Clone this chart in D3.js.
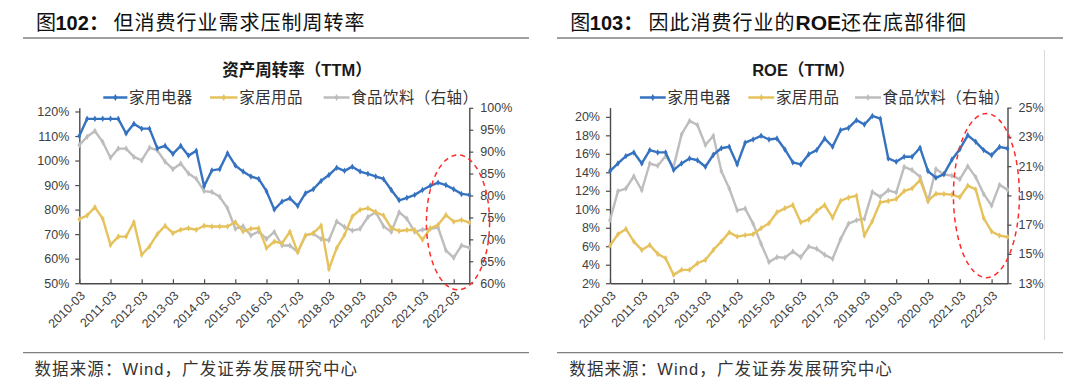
<!DOCTYPE html>
<html><head><meta charset="utf-8">
<script src="https://cdn.jsdelivr.net/npm/d3@7"></script>
<style>
html,body{margin:0;padding:0;background:#fff;}
svg{display:block;}
</style></head><body>
<svg id="c" width="1080" height="382"></svg>
<script>
// ---------------- DATA ----------------
const quarters = ["2010-03","2010-06","2010-09","2010-12","2011-03","2011-06","2011-09","2011-12",
"2012-03","2012-06","2012-09","2012-12","2013-03","2013-06","2013-09","2013-12",
"2014-03","2014-06","2014-09","2014-12","2015-03","2015-06","2015-09","2015-12",
"2016-03","2016-06","2016-09","2016-12","2017-03","2017-06","2017-09","2017-12",
"2018-03","2018-06","2018-09","2018-12","2019-03","2019-06","2019-09","2019-12",
"2020-03","2020-06","2020-09","2020-12","2021-03","2021-06","2021-09","2021-12",
"2022-03","2022-06","2022-09"];
const tickLabels = ["2010-03","2011-03","2012-03","2013-03","2014-03","2015-03","2016-03",
"2017-03","2018-03","2019-03","2020-03","2021-03","2022-03"];
const seriesNames = ["家用电器","家居用品","食品饮料（右轴）"];

// Figure 102: asset turnover (TTM), %
const turnoverAppliance = [110,117,117,117,117,117,111,115,113,113,105,106,102.7,106,102,104,
 89.5,96,96.5,103,98,95.5,93.5,92.5,87.5,80,83.3,84.6,81.5,86.7,88.3,91.7,94.1,97.1,95.8,97.5,
 95.5,94.6,93.5,92.5,88,83.8,84.8,86,88,89.7,91,90,88.3,86.4,86];
const turnoverHome = [76.1,77.6,81,76.3,65.6,69,69,74.9,61.6,65,70,73.4,70.4,71.8,72.4,71.8,
 73.4,73.1,73.1,73.1,74.9,71.1,72.2,72.4,64.3,67,66.3,71,62.6,69.5,70.4,73.5,55.8,64.3,69.7,77.2,
 79.9,80.6,79,77.6,72.4,71.3,71.7,71.7,67.7,72.4,73.8,77.8,75.1,75.8,74.7];
const turnoverFood = [91.5,93.4,94.7,92.2,88.6,90.7,90.7,88.8,88,90.9,90.3,87.7,86,87.3,85,83.8,
 81,80.8,79.7,77.1,72.4,73,70.9,71.8,70.1,71.7,68.6,68.6,67.1,70.9,71.3,70.1,69.8,74.1,72.8,72,
 72.4,75.1,76.2,73,71.7,76.2,74.7,71.7,72.2,72.4,72.7,67.5,65.8,68.6,68.1];

// Figure 103: ROE (TTM), %
const roeAppliance = [14.13,14.96,15.75,16.15,14.96,16.4,16.15,16.15,14.24,14.96,15.5,15.3,14.6,
 15.9,16.6,16.76,14.85,17.2,17.55,17.95,17.55,17.66,16.47,15.07,14.85,15.95,16.4,17.66,16.76,
 18.56,18.8,19.64,19.17,20.1,19.8,15.5,15.14,15.68,15.68,16.65,14.13,13.4,13.8,15.35,16.5,18.0,
 17.3,16.4,15.85,16.75,16.58];
const roeHome = [6.07,7.29,7.87,6.5,5.6,6.14,5.17,4.7,2.9,3.44,3.44,4.16,4.52,5.6,6.5,7.5,7.04,
 7.2,7.29,7.94,8.48,9.67,10.1,10.46,8.59,8.9,9.81,10.46,9.09,10.9,11.25,11.47,7.15,8.73,10.75,
 10.9,11.1,11.97,12.26,13.16,10.9,11.68,11.65,11.58,11.3,12.55,12.15,9.05,7.6,7.15,7.0];
const roeFood = [17.3,19.29,19.47,20.31,19.35,21.18,21.02,21.69,20.95,23.17,24.09,23.81,22.44,
 23.08,20.66,19.47,17.98,18.1,17.07,15.7,14.44,14.78,14.74,15.17,14.78,15.5,15.35,14.94,14.67,
 16.0,17.07,17.3,17.41,19.24,18.9,19.35,19.19,20.95,20.73,20.27,18.6,20.8,20.43,20.35,20.1,
 21.0,20.25,19.1,18.3,19.72,19.38];

const turnoverLeftTicks = [50,60,70,80,90,100,110,120];
const turnoverRightTicks = [60,65,70,75,80,85,90,95,100];
const roeLeftTicks = [2,4,6,8,10,12,14,16,18,20];
const roeRightTicks = [13,15,17,19,21,23,25];

// ---------------- DRAW ----------------
const COLORS = ["#3572c0","#e6c25c","#bdbdbd"];
const LATIN = "'Liberation Sans', Arial, sans-serif";
const CJK = "'Noto Sans CJK SC', 'Noto Sans', sans-serif";
const svg = d3.select("#c");

function drawPanel(cfg){
  const g = svg.append("g");
  // Figure title
  const t = g.append("text").attr("y", cfg.titleY).attr("fill","#111")
    .style("font-size","20px");
  t.append("tspan").attr("x", cfg.titleX).style("font-family",CJK).text("图");
  t.append("tspan").attr("x", cfg.titleX+19.5).style("font-family",LATIN).style("font-weight","bold")
    .style("font-size","20px").text(cfg.figNo);
  t.append("tspan").style("font-family",CJK).style("font-weight","bold").text("：");
  cfg.titleParts.forEach(p=>{
    const ts = t.append("tspan").text(p.t);
    if(p.x!==undefined) ts.attr("x", p.x);
    if(p.latin){ ts.style("font-family",LATIN).style("font-weight","bold").style("font-size","21px"); }
    else ts.style("font-family",CJK).style("letter-spacing","1px");
  });
  // rules
  g.append("line").attr("x1",cfg.ruleX0).attr("x2",cfg.ruleX1).attr("y1",38).attr("y2",38)
    .attr("stroke","#808080").attr("stroke-width",1.3);
  g.append("line").attr("x1",cfg.ruleX0).attr("x2",cfg.ruleX1).attr("y1",352.6).attr("y2",352.6)
    .attr("stroke","#808080").attr("stroke-width",1.3);
  // source
  const s = g.append("text").attr("x",cfg.srcX).attr("y",374.5).attr("fill","#333")
    .style("font-size","16.5px").style("font-family",CJK).style("letter-spacing","1.1px");
  s.append("tspan").text("数据来源：");
  s.append("tspan").style("font-family",LATIN).text("Wind");
  s.append("tspan").text("，广发证券发展研究中心");
  // chart title
  const ct = g.append("text").attr("x",cfg.chartTitleX).attr("y",76).attr("text-anchor","middle")
    .attr("fill","#1a1a1a").style("font-size","16.5px").style("font-weight","bold");
  cfg.chartTitle.forEach(p=>{
    ct.append("tspan").style("font-family", p.latin?LATIN:CJK).text(p.t);
  });
  // legend
  cfg.legend.forEach((L,k)=>{
    g.append("line").attr("x1",L.x0).attr("x2",L.x1).attr("y1",97.5).attr("y2",97.5)
      .attr("stroke",COLORS[k]).attr("stroke-width",2.5);
    g.append("path").attr("d", d3.symbol(d3.symbolDiamond, 14)())
      .attr("transform",`translate(${(L.x0+L.x1)/2},97.5)`).attr("fill",COLORS[k]);
    g.append("text").attr("x",L.tx).attr("y",103).attr("fill","#333")
      .style("font-size","15.5px").style("letter-spacing","0.4px").style("font-family",CJK).text(seriesNames[k]);
  });

  // scales
  const x = d3.scaleLinear().domain([0, quarters.length-1]).range([cfg.x0, cfg.x1]);
  const yL = d3.scaleLinear().domain(cfg.leftDomain).range([cfg.bottom, cfg.top]);
  const yR = d3.scaleLinear().domain(cfg.rightDomain).range([cfg.bottom, cfg.top]);

  const styleAxis = (sel)=>{
    sel.select(".domain").attr("stroke","#4a4a4a").attr("stroke-width",1.4);
    sel.selectAll(".tick line").attr("stroke","#4a4a4a").attr("stroke-width",1.2);
    sel.selectAll(".tick text").attr("fill","#404040").style("font-family",LATIN).style("font-size","12.5px");
  };
  const axL = g.append("g").attr("transform",`translate(${cfg.x0},0)`)
    .call(d3.axisLeft(yL).tickValues(cfg.leftTicks).tickSize(4).tickSizeOuter(0).tickPadding(6).tickFormat(d=>d+"%"));
  styleAxis(axL);
  const axR = g.append("g").attr("transform",`translate(${cfg.x1},0)`)
    .call(d3.axisRight(yR).tickValues(cfg.rightTicks).tickSize(4).tickSizeOuter(0).tickPadding(7).tickFormat(d=>d+"%"));
  styleAxis(axR);
  const tickIdx = tickLabels.map(l=>quarters.indexOf(l));
  const axB = g.append("g").attr("transform",`translate(0,${cfg.bottom})`)
    .call(d3.axisBottom(x).tickValues(tickIdx).tickSize(-4).tickSizeOuter(0).tickFormat(i=>quarters[i]));
  styleAxis(axB);
  axB.selectAll(".tick text").attr("text-anchor","end").attr("x",0).attr("y",0).attr("dy","0.35em")
    .attr("transform","translate(3,10) rotate(-45)");

  // series
  const series = [
    {vals: cfg.s2, y: yR, c: COLORS[2]},
    {vals: cfg.s1, y: yL, c: COLORS[1]},
    {vals: cfg.s0, y: yL, c: COLORS[0]}
  ];
  series.forEach(S=>{
    const line = d3.line().x((d,i)=>x(i)).y(d=>S.y(d));
    g.append("path").datum(S.vals).attr("d",line).attr("fill","none")
      .attr("stroke",S.c).attr("stroke-width",2.4).attr("stroke-linejoin","round");
    g.selectAll(null).data(S.vals).enter().append("path")
      .attr("d", d3.symbol(d3.symbolDiamond, 12)())
      .attr("transform",(d,i)=>`translate(${x(i)},${S.y(d)})`).attr("fill",S.c);
  });

  // highlight ellipse (defined in data units)
  const e = cfg.ellipse;
  const ex0 = x(e.i0), ex1 = x(e.i1), ey0 = yL(e.vTop), ey1 = yL(e.vBot);
  g.append("ellipse").attr("cx",(ex0+ex1)/2).attr("cy",(ey0+ey1)/2)
    .attr("rx",(ex1-ex0)/2).attr("ry",(ey1-ey0)/2)
    .attr("fill","none").attr("stroke","#ff2a2a").attr("stroke-width",1.5)
    .attr("stroke-dasharray","5,4");
}

drawPanel({
  figNo:"102", titleX:36, titleY:30,
  titleParts:[{t:"但消费行业需求压制周转率", x:113.5}],
  ruleX0:23, ruleX1:529, srcX:34.5,
  chartTitleX:297, chartTitle:[{t:"资产周转率（"},{t:"TTM",latin:true},{t:"）"}],
  legend:[{x0:103.3,x1:127.4,tx:129.1},{x0:210,x1:237.6,tx:239.3},{x0:323.7,x1:349.5,tx:351.2}],
  x0:79.3, x1:469.3, bottom:283.2, top:107.8,
  leftDomain:[50,121.5], rightDomain:[60,100],
  leftTicks:turnoverLeftTicks, rightTicks:turnoverRightTicks,
  s0:turnoverAppliance, s1:turnoverHome, s2:turnoverFood,
  ellipse:{i0:44.5, i1:52.6, vTop:102.3, vBot:47.3}
});

drawPanel({
  figNo:"103", titleX:570.3, titleY:30,
  titleParts:[{t:"因此消费行业的", x:648.5},{t:"ROE", latin:true},{t:"还在底部徘徊"}],
  ruleX0:557, ruleX1:1063, srcX:569.3,
  chartTitleX:803.5, chartTitle:[{t:"ROE",latin:true},{t:"（"},{t:"TTM",latin:true},{t:"）"}],
  legend:[{x0:639.9,x1:665.7,tx:667.4},{x0:748.3,x1:774.2,tx:775.9},{x0:855,x1:881,tx:882.6}],
  x0:610, x1:1007.5, bottom:283.2, top:107.6,
  leftDomain:[2,21], rightDomain:[13,25],
  leftTicks:roeLeftTicks, rightTicks:roeRightTicks,
  s0:roeAppliance, s1:roeHome, s2:roeFood,
  ellipse:{i0:43.2, i1:51.5, vTop:20.36, vBot:2.6}
});

// faint frame line at right of second chart
svg.append("line").attr("x1",1044.5).attr("x2",1044.5).attr("y1",50).attr("y2",340)
  .attr("stroke","#d9d9d9").attr("stroke-width",1);
</script>
</body></html>
